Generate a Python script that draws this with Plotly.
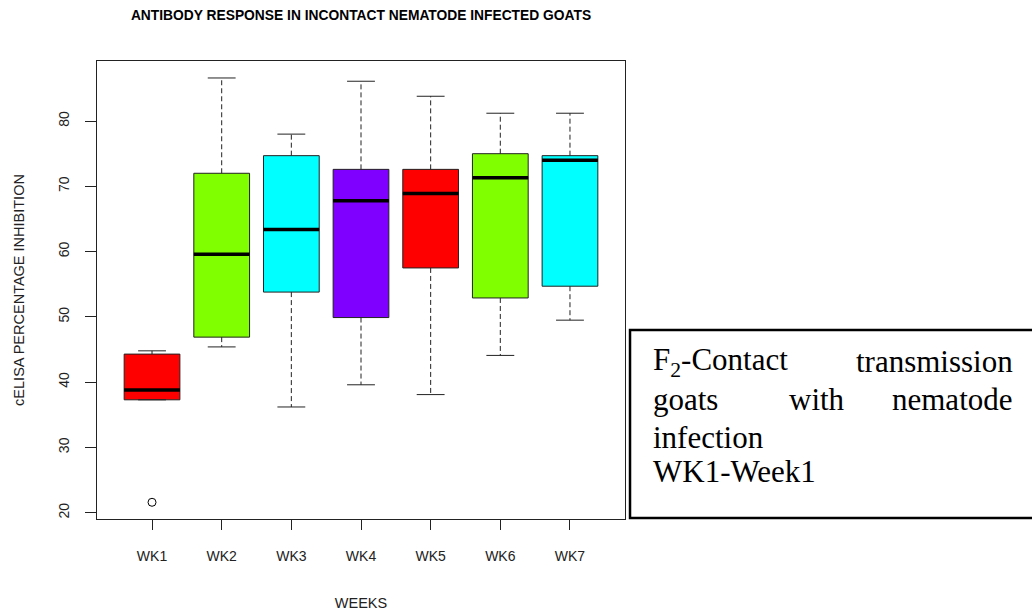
import plotly.graph_objects as go

# Weekly cELISA percentage inhibition summaries (five-number summaries)
weeks = ["WK1", "WK2", "WK3", "WK4", "WK5", "WK6", "WK7"]
lower_whisker = [37.3, 45.4, 36.2, 39.6, 38.1, 44.1, 49.5]
q1 = [37.3, 46.9, 53.8, 49.9, 57.5, 52.9, 54.7]
median = [38.8, 59.6, 63.4, 67.8, 68.9, 71.3, 74.0]
q3 = [44.3, 72.0, 74.7, 72.6, 72.6, 75.0, 74.7]
upper_whisker = [44.8, 86.6, 78.0, 86.1, 83.8, 81.2, 81.2]
outlier_week = ["WK1"]
outlier_value = [21.6]

# rainbow(4) palette, recycled over the weeks
palette = ["#FF0000", "#80FF00", "#00FFFF", "#8000FF"]

pos = list(range(1, len(weeks) + 1))
box_w = 0.8
staple_w = box_w / 4

fig = go.Figure()

# Box bodies
for i, wk in enumerate(weeks):
    fig.add_trace(go.Box(
        x=[pos[i]], q1=[q1[i]], median=[median[i]], q3=[q3[i]],
        lowerfence=[q1[i]], upperfence=[q3[i]],
        width=box_w, whiskerwidth=0,
        fillcolor=palette[i % len(palette)],
        line=dict(color="#222222", width=1),
        boxpoints=False, hoverinfo="skip", showlegend=False, name=wk,
    ))

# Dashed whiskers
wx, wy = [], []
for i in range(len(weeks)):
    wx += [pos[i], pos[i], None, pos[i], pos[i], None]
    wy += [q3[i], upper_whisker[i], None, q1[i], lower_whisker[i], None]
fig.add_trace(go.Scatter(x=wx, y=wy, mode="lines",
                         line=dict(color="#222222", width=1, dash="5px,3px"),
                         hoverinfo="skip", showlegend=False))

# Whisker staples
sx, sy = [], []
for i in range(len(weeks)):
    sx += [pos[i] - staple_w, pos[i] + staple_w, None,
           pos[i] - staple_w, pos[i] + staple_w, None]
    sy += [upper_whisker[i], upper_whisker[i], None,
           lower_whisker[i], lower_whisker[i], None]
fig.add_trace(go.Scatter(x=sx, y=sy, mode="lines",
                         line=dict(color="#222222", width=1),
                         hoverinfo="skip", showlegend=False))

# Thick median bars
mx, my = [], []
for i in range(len(weeks)):
    mx += [pos[i] - box_w / 2, pos[i] + box_w / 2, None]
    my += [median[i], median[i], None]
fig.add_trace(go.Scatter(x=mx, y=my, mode="lines",
                         line=dict(color="black", width=3.5),
                         hoverinfo="skip", showlegend=False))

# Outliers
fig.add_trace(go.Scatter(
    x=[pos[weeks.index(w)] for w in outlier_week], y=outlier_value,
    mode="markers",
    marker=dict(symbol="circle-open", size=8, color="black", line=dict(width=1)),
    hoverinfo="skip", showlegend=False))

tick_font = dict(family="Liberation Sans, Arial, sans-serif", size=14, color="#222222")
label_font = dict(family="Liberation Sans, Arial, sans-serif", size=14.5, color="#222222")

fig.update_layout(
    width=1032, height=615,
    margin=dict(l=97, r=407, t=61, b=96),
    paper_bgcolor="white", plot_bgcolor="white",
    title=dict(
        text="<b>ANTIBODY RESPONSE IN INCONTACT NEMATODE INFECTED GOATS</b>",
        font=dict(family="Liberation Sans, Arial, sans-serif", size=13.8, color="black"),
        x=0.5, xref="paper", xanchor="center",
        y=1 - 15 / 615, yref="container", yanchor="middle",
    ),
    xaxis=dict(
        range=[0.21, 7.79], tickmode="array", tickvals=pos, ticktext=weeks,
        showgrid=False, zeroline=False, automargin=False,
        showline=True, mirror=True, linecolor="#222222", linewidth=1,
        ticks="outside", ticklen=10, tickcolor="#222222", tickwidth=1,
        ticklabelstandoff=14, tickfont=tick_font,
        title=dict(text="WEEKS", font=label_font, standoff=35),
    ),
    yaxis=dict(
        range=[19.04, 89.2], tickmode="array", tickvals=[20, 30, 40, 50, 60, 70, 80],
        showgrid=False, zeroline=False, automargin=False,
        showline=True, mirror=True, linecolor="#222222", linewidth=1,
        ticks="outside", ticklen=11, tickcolor="#222222", tickwidth=1,
        tickangle=-90, ticklabelstandoff=10, tickfont=tick_font,
        title=dict(text="cELISA PERCENTAGE INHIBITION", font=label_font, standoff=28),
    ),
)

# Caption box to the right of the plot
fig.add_shape(type="rect", xref="paper", yref="paper",
              x0=1.0095, x1=1.85, y0=0.002, y1=0.4127,
              line=dict(color="black", width=2.5), fillcolor="rgba(0,0,0,0)")

serif = dict(family="Liberation Serif, Times New Roman, serif", size=31, color="black")
caption = [
    ("F<sub>2</sub>-Contact", 1.0492, 0.343, "left"),
    ("transmission", 1.7386, 0.343, "right"),
    ("goats", 1.0492, 0.260, "left"),
    ("with", 1.3636, 0.260, "center"),
    ("nematode", 1.7386, 0.260, "right"),
    ("infection", 1.0492, 0.179, "left"),
    ("WK1-Week1", 1.0492, 0.1028, "left"),
]
for text, x, y, anchor in caption:
    fig.add_annotation(text=text, x=x, y=y, xref="paper", yref="paper",
                       xanchor=anchor, yanchor="middle", showarrow=False, font=serif)

fig.write_html("out.html")
